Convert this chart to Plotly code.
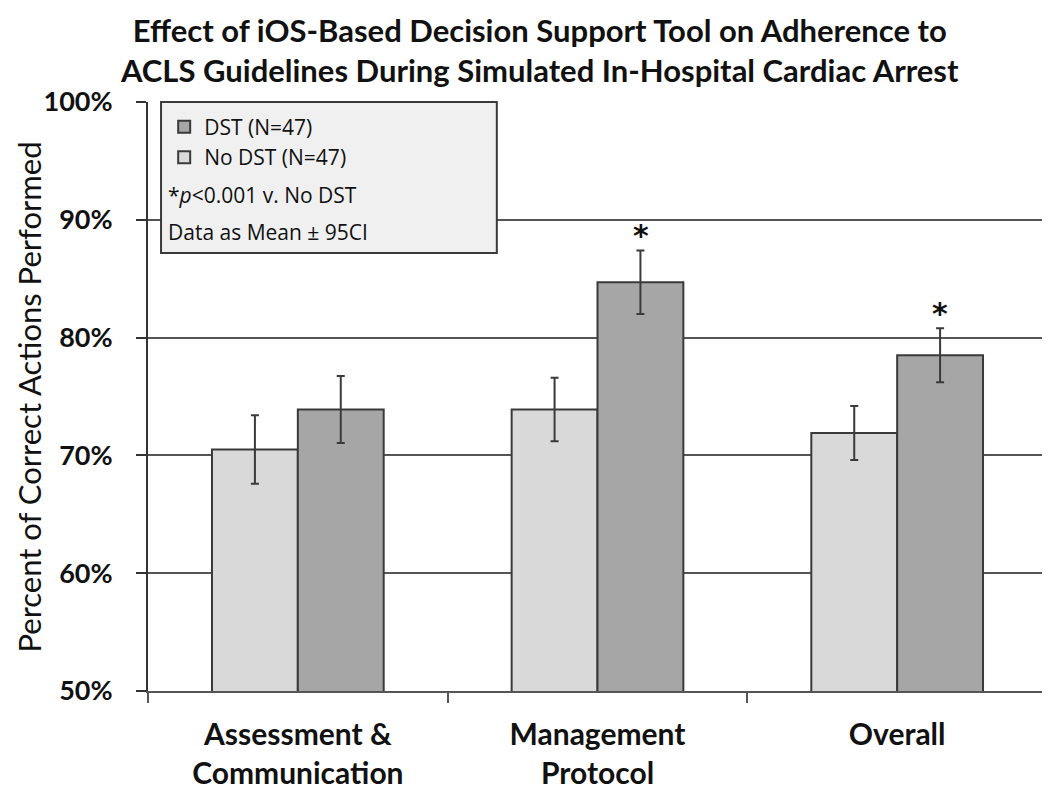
import plotly.graph_objects as go

categories = ["Assessment &<br>Communication", "Management<br>Protocol", "Overall"]
no_dst = [70.5, 73.9, 71.9]
no_dst_ci = [2.9, 2.7, 2.3]
dst = [73.9, 84.7, 78.5]
dst_ci = [2.85, 2.7, 2.3]
significant = [False, True, True]
y_ticks = [50, 60, 70, 80, 90, 100]
y_tick_labels = ["50%", "60%", "70%", "80%", "90%", "100%"]
title_lines = ["Effect of iOS-Based Decision Support Tool on Adherence to",
               "ACLS Guidelines During Simulated In-Hospital Cardiac Arrest"]

FONT = "Lato"
LEGFONT = "Open Sans"
EDGE = "#3a3a3a"
TXT = "#111111"

fig = go.Figure()
fig.add_trace(go.Bar(
    x=categories, y=no_dst, name="No DST (N=47)",
    marker=dict(color="#d9d9d9", line=dict(color=EDGE, width=2)),
    error_y=dict(type="data", array=no_dst_ci, color=EDGE, thickness=2, width=4),
))
fig.add_trace(go.Bar(
    x=categories, y=dst, name="DST (N=47)",
    marker=dict(color="#a6a6a6", line=dict(color=EDGE, width=2)),
    error_y=dict(type="data", array=dst_ci, color=EDGE, thickness=2, width=4),
))

for cat, v, ci, sig in zip(categories, dst, dst_ci, significant):
    if sig:
        fig.add_annotation(x=cat, y=v + ci, xshift=43, yshift=15, text="<b>*</b>",
                           showarrow=False, yanchor="middle",
                           font=dict(family="DejaVu Sans", size=30, color=TXT))

# title (two lines in one annotation, top edge just inside the figure)
fig.add_annotation(xref="paper", yref="paper", x=0.4357, y=1.1587,
                   xanchor="center", yanchor="top", showarrow=False,
                   text="<b>%s</b>" % "<br>".join(title_lines),
                   font=dict(family=FONT, size=31, color=TXT))

# y-axis title
fig.add_annotation(xref="paper", yref="paper", x=-0.1324, y=0.5, textangle=-90,
                   xanchor="center", yanchor="middle", showarrow=False,
                   text="Percent of Correct Actions Performed",
                   font=dict(family=FONT, size=31, color=TXT))

# legend box
fig.add_shape(type="rect", xref="paper", yref="paper", x0=0.0145, x1=0.388,
              y0=0.7436, y1=1.0, fillcolor="#f0f0f0",
              line=dict(color="#3a3a3a", width=2), layer="above")
fig.add_annotation(xref="paper", yref="paper", x=0.02, y=0.842, xanchor="left",
                   yanchor="middle", showarrow=False,
                   text="*<i>p</i><0.001 v. No DST",
                   font=dict(family=LEGFONT, size=21, color=TXT))
fig.add_annotation(xref="paper", yref="paper", x=0.02, y=0.779, xanchor="left",
                   yanchor="middle", showarrow=False,
                   text="Data as Mean ± 95CI",
                   font=dict(family=LEGFONT, size=21, color=TXT))

fig.update_layout(
    width=1042, height=786,
    margin=dict(l=140, r=3, t=94, b=103, autoexpand=False),
    paper_bgcolor="white", plot_bgcolor="white",
    barmode="group", bargap=0.427, bargroupgap=0,
    legend=dict(
        x=0.018, y=0.992, xanchor="left", yanchor="top",
        traceorder="reversed", bgcolor="rgba(0,0,0,0)",
        font=dict(family=LEGFONT, size=21, color=TXT),
        tracegroupgap=0,
    ),
    showlegend=True,
    font=dict(family=FONT, color=TXT),
)

fig.update_xaxes(
    showline=True, linecolor="#555", linewidth=2,
    ticks="outside", tickson="boundaries", ticklen=10, tickcolor="#555", tickwidth=2,
    tickfont=dict(family=FONT, size=30, color=TXT),
    tickvals=categories, ticktext=["<b>%s</b>" % c for c in categories],
    ticklabelstandoff=16,
    showgrid=False, automargin=False,
)
fig.update_yaxes(
    range=[50, 100], tickvals=y_ticks, ticktext=["<b>%s</b>" % t for t in y_tick_labels],
    showline=True, linecolor="#333", linewidth=2,
    ticks="outside", ticklen=10, tickcolor="#333", tickwidth=2,
    tickfont=dict(family=FONT, size=27, color=TXT),
    ticklabelstandoff=18,
    showgrid=True, gridcolor="#555", gridwidth=2,
    zeroline=False, automargin=False,
)

fig.write_html("out.html")
